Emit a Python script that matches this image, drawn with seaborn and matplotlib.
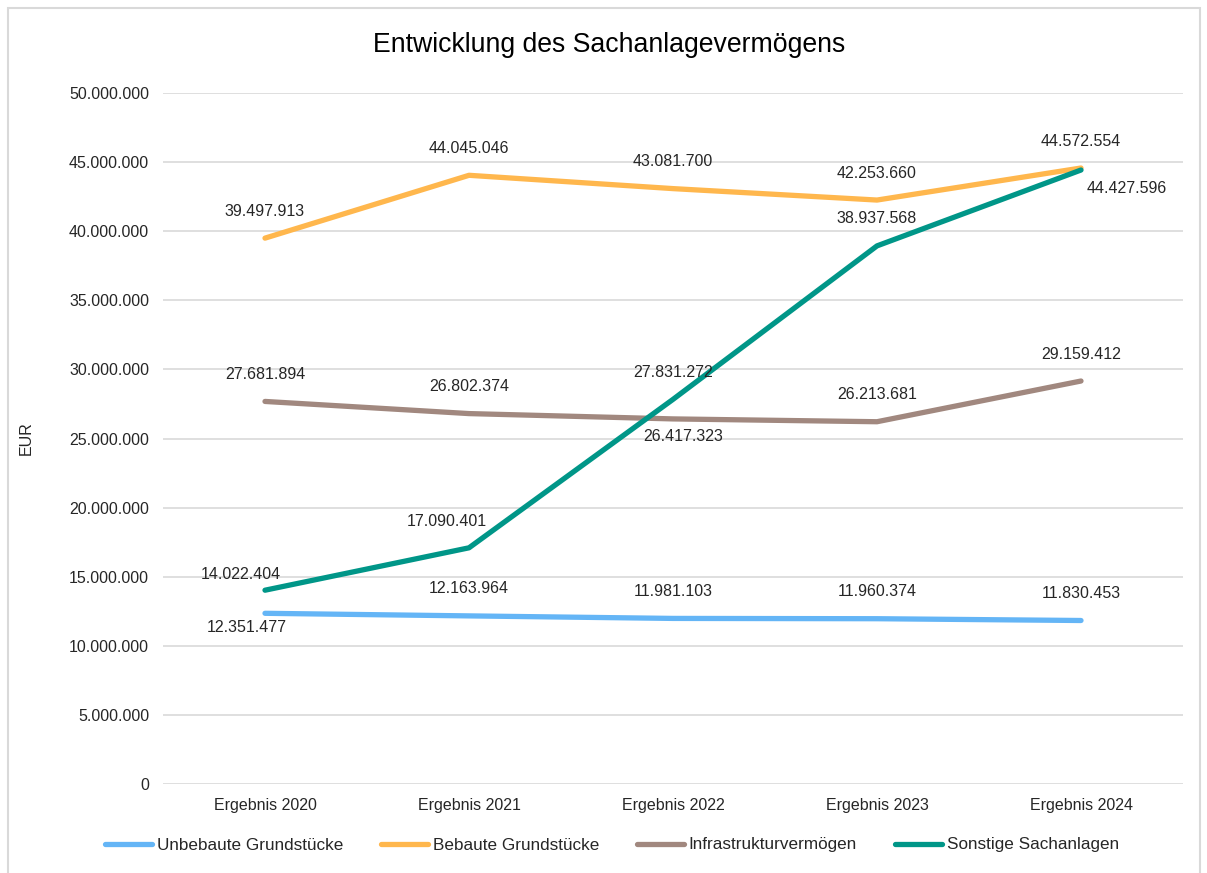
import pandas as pd
import seaborn as sns
import matplotlib.pyplot as plt
from matplotlib.patches import Rectangle
from matplotlib.ticker import FuncFormatter

years = ["Ergebnis 2020", "Ergebnis 2021", "Ergebnis 2022", "Ergebnis 2023", "Ergebnis 2024"]
unbebaute = [12351477, 12163964, 11981103, 11960374, 11830453]
bebaute = [39497913, 44045046, 43081700, 42253660, 44572554]
infrastruktur = [27681894, 26802374, 26417323, 26213681, 29159412]
sonstige = [14022404, 17090401, 27831272, 38937568, 44427596]

series_names = ["Unbebaute Grundstücke", "Bebaute Grundstücke", "Infrastrukturvermögen", "Sonstige Sachanlagen"]
colors = ["#64B5F6", "#FFB74D", "#A1887F", "#009688"]

# label offsets in pixels (default: centered above the point)
label_offsets = {
    ("Unbebaute Grundstücke", 0): (-18, -14),
    ("Sonstige Sachanlagen", 0): (-24, 16),
    ("Sonstige Sachanlagen", 1): (-22, 26),
    ("Infrastrukturvermögen", 2): (10, -18),
    ("Sonstige Sachanlagen", 4): (46, -18),
}


def fmt_de(v, pos=None):
    return f"{int(v):,}".replace(",", ".")


rows = []
for name, vals in zip(series_names, [unbebaute, bebaute, infrastruktur, sonstige]):
    for yr, v in zip(years, vals):
        rows.append({"Jahr": yr, "Wert": v, "Reihe": name})
df = pd.DataFrame(rows)

sns.set_theme(style="white")
plt.rcParams['font.family'] = ['Liberation Sans', 'DejaVu Sans']

fig = plt.figure(figsize=(12.07, 8.73), dpi=100)
ax = fig.add_axes([163 / 1207, 1 - 784 / 873, (1183 - 163) / 1207, (784 - 93) / 873])

sns.lineplot(data=df, x="Jahr", y="Wert", hue="Reihe", hue_order=series_names,
             palette=colors, linewidth=3.8, ax=ax, sort=False, zorder=3,
             solid_capstyle="round")

ax.set_xlim(-0.5, 4.5)
ax.set_ylim(0, 50000000)
ax.set_yticks(range(0, 50000001, 5000000))
ax.yaxis.set_major_formatter(FuncFormatter(fmt_de))
ax.grid(axis="y", color="#D9D9D9", linewidth=1.2, zorder=0)
ax.grid(axis="x", visible=False)
for s in ax.spines.values():
    s.set_visible(False)
ax.tick_params(axis="both", length=0, labelsize=11.5, colors="#262626")
ax.tick_params(axis="y", pad=10)
ax.tick_params(axis="x", pad=10)
ax.set_xlabel("")
ax.set_ylabel("EUR", fontsize=11.5, color="#262626", labelpad=0)
ax.yaxis.set_label_coords(-0.127, 0.5)

for name, vals in zip(series_names, [unbebaute, bebaute, infrastruktur, sonstige]):
    for i, v in enumerate(vals):
        dx, dy = label_offsets.get((name, i), (0, 27))
        ax.annotate(fmt_de(v), (i, v), xytext=(dx, dy), textcoords="offset pixels",
                    ha="center", va="center", fontsize=11.5, color="#262626", zorder=4)

ax.legend_.remove()
handles, labels = ax.get_legend_handles_labels()
fig.legend(handles, labels, loc="center", bbox_to_anchor=(612 / 1207, 1 - 845 / 873),
           ncol=4, frameon=False, fontsize=12.3, handlelength=2.75, handletextpad=0.25,
           columnspacing=2.25)

fig.text(609 / 1207, 1 - 45 / 873, "Entwicklung des Sachanlagevermögens",
         ha="center", va="center", fontsize=19.2, color="#000000")

fig.patches.append(Rectangle((8 / 1207, -0.02), (1200 - 8) / 1207, 1 - 8 / 873 + 0.02,
                             transform=fig.transFigure, fill=False,
                             edgecolor="#D9D9D9", linewidth=1.5))

fig.savefig("out.png", dpi=100)
